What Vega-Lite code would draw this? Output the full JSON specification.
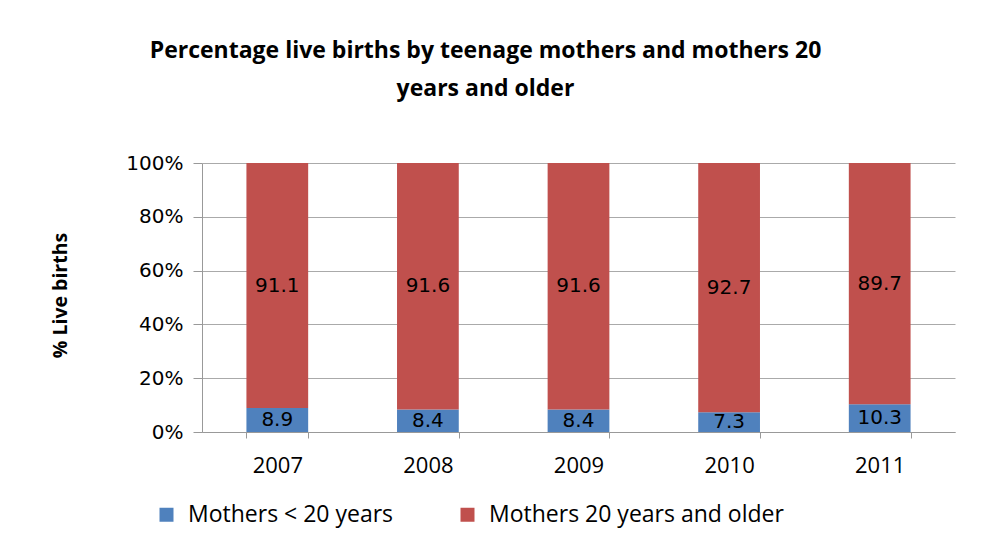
{
  "$schema": "https://vega.github.io/schema/vega-lite/v6.json",
  "autosize": {"type": "none"},
  "width": 753,
  "height": 269,
  "padding": {"left": 202, "top": 163, "right": 28, "bottom": 122},
  "background": "white",
  "title": {
    "text": ["Percentage live births by teenage mothers and mothers 20", "years and older"],
    "font": "Open Sans",
    "fontSize": 23,
    "fontWeight": "bold",
    "color": "#000000",
    "anchor": "middle",
    "dx": -93,
    "offset": 52,
    "lineHeight": 38
  },
  "data": {
    "values": [
      {"year": "2007", "series": "Mothers < 20 years", "value": 8.9},
      {"year": "2007", "series": "Mothers 20 years and older", "value": 91.1},
      {"year": "2008", "series": "Mothers < 20 years", "value": 8.4},
      {"year": "2008", "series": "Mothers 20 years and older", "value": 91.6},
      {"year": "2009", "series": "Mothers < 20 years", "value": 8.4},
      {"year": "2009", "series": "Mothers 20 years and older", "value": 91.6},
      {"year": "2010", "series": "Mothers < 20 years", "value": 7.3},
      {"year": "2010", "series": "Mothers 20 years and older", "value": 92.7},
      {"year": "2011", "series": "Mothers < 20 years", "value": 10.3},
      {"year": "2011", "series": "Mothers 20 years and older", "value": 89.7}
    ]
  },
  "transform": [
    {
      "stack": "value",
      "groupby": ["year"],
      "sort": [{"field": "series", "order": "descending"}],
      "offset": "normalize",
      "as": ["v0", "v1"]
    }
  ],
  "layer": [
    {
      "mark": {"type": "bar"},
      "encoding": {
        "x": {
          "field": "year",
          "type": "nominal",
          "scale": {"paddingInner": 0.59, "paddingOuter": 0.295},
          "axis": {
            "title": null,
            "labelAngle": 0,
            "labelFont": "Open Sans",
            "labelFontSize": 22,
            "labelColor": "#000000",
            "labelPadding": 17,
            "tickBand": "extent",
            "tickSize": 6,
            "tickColor": "#999999",
            "domainColor": "#999999",
            "grid": false
          }
        },
        "y": {
          "field": "v0",
          "type": "quantitative",
          "scale": {"domain": [0, 1], "nice": false},
          "axis": {
            "title": "% Live births",
            "titleFont": "Open Sans",
            "titleFontSize": 19.5,
            "titleFontWeight": "bold",
            "titleColor": "#000000",
            "titleAngle": -90,
            "titleX": -142,
            "titleY": 132,
            "titleAlign": "center",
            "titleBaseline": "middle",
            "format": ".0%",
            "values": [0, 0.2, 0.4, 0.6, 0.8, 1],
            "labelFont": "DejaVu Sans",
            "labelFontSize": 20,
            "labelColor": "#000000",
            "labelPadding": 10,
            "tickSize": 9,
            "tickColor": "#999999",
            "domainColor": "#999999",
            "gridColor": "#aaaaaa",
            "grid": true
          }
        },
        "y2": {"field": "v1"},
        "color": {
          "field": "series",
          "type": "nominal",
          "scale": {
            "domain": ["Mothers < 20 years", "Mothers 20 years and older"],
            "range": ["#4F81BD", "#C0504D"]
          },
          "legend": {
            "title": null,
            "orient": "none",
            "direction": "horizontal",
            "legendX": -47,
            "legendY": 340,
            "symbolType": "square",
            "symbolSize": 196,
            "symbolStrokeWidth": 0,
            "labelFont": "Open Sans",
            "labelFontSize": 23,
            "labelColor": "#000000",
            "labelOffset": 10,
            "labelLimit": 0,
            "columnPadding": 62
          }
        }
      }
    },
    {
      "transform": [
        {"fold": ["v0", "v1"], "as": ["edge", "pos"]},
        {"aggregate": [{"op": "mean", "field": "pos", "as": "mid"}], "groupby": ["year", "series", "value"]}
      ],
      "mark": {"type": "text", "font": "DejaVu Sans", "fontSize": 20, "color": "#000000"},
      "encoding": {
        "x": {"field": "year", "type": "nominal"},
        "y": {"field": "mid", "type": "quantitative"},
        "text": {"field": "value", "type": "quantitative", "format": ".1f"}
      }
    }
  ],
  "config": {
    "view": {"stroke": null}
  }
}
